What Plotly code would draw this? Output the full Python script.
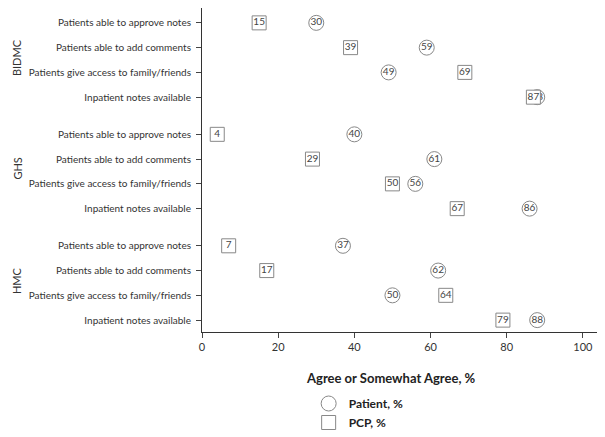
import plotly.graph_objects as go

groups = ["BIDMC", "GHS", "HMC"]
items = ["Patients able to approve notes", "Patients able to add comments",
         "Patients give access to family/friends", "Inpatient notes available"]
patient = [[30, 59, 49, 88], [40, 61, 56, 86], [37, 62, 50, 88]]
pcp = [[15, 39, 69, 87], [4, 29, 50, 67], [7, 17, 64, 79]]
x_ticks = [0, 20, 40, 60, 80, 100]

ypos, ylab, px, qx = [], [], [], []
for g in range(3):
    for i in range(4):
        ypos.append(g * 4.5 + i)
        ylab.append(items[i])
        px.append(patient[g][i])
        qx.append(pcp[g][i])

FONT = "Lato"
fig = go.Figure()
fig.add_trace(go.Scatter(
    x=px, y=ypos, mode="markers+text", name="<b>Patient, %</b>",
    text=[str(v) for v in px], textposition="middle center",
    textfont=dict(family=FONT, size=10, color="#444"),
    marker=dict(symbol="circle", size=15, color="white",
                line=dict(color="#888", width=1)),
    cliponaxis=False))
fig.add_trace(go.Scatter(
    x=qx, y=ypos, mode="markers+text", name="<b>PCP, %</b>",
    text=[str(v) for v in qx], textposition="middle center",
    textfont=dict(family=FONT, size=10, color="#444"),
    marker=dict(symbol="square", size=14, color="white",
                line=dict(color="#888", width=1)),
    cliponaxis=False))

for g, name in enumerate(groups):
    fig.add_annotation(text=name, xref="paper", yref="y", x=-0.491, y=g * 4.5 + 1.4,
                       textangle=-90, showarrow=False, xanchor="left", yanchor="middle",
                       font=dict(family=FONT, size=11, color="#333"))

fig.add_annotation(text="<b>Agree or Somewhat Agree, %</b>", xref="paper", yref="paper",
                   x=0.478, y=-0.141, showarrow=False, xanchor="center", yanchor="middle",
                   font=dict(family=FONT, size=13, color="#222"))

fig.update_xaxes(range=[0, 103.7], tickvals=x_ticks, ticks="outside", ticklen=5,
                 showline=True, linecolor="#333", linewidth=1, showgrid=False, zeroline=False,
                 automargin=False,
                 tickfont=dict(family=FONT, size=11, color="#333"))
fig.update_yaxes(range=[12.48, -0.6], tickvals=ypos, ticktext=ylab, ticks="outside", ticklen=5,
                 showline=True, linecolor="#333", linewidth=1, showgrid=False, zeroline=False,
                 automargin=False, ticklabelstandoff=3,
                 tickfont=dict(family=FONT, size=10, color="#333"))

fig.update_layout(
    width=597, height=429, plot_bgcolor="white", paper_bgcolor="white",
    margin=dict(l=194, r=8, t=0, b=104),
    showlegend=True,
    legend=dict(x=0.27, y=-0.175, xanchor="left", yanchor="top",
                font=dict(family=FONT, size=12, color="#222"),
                tracegroupgap=2, itemsizing="trace"),
)
fig.write_html("out.html")
